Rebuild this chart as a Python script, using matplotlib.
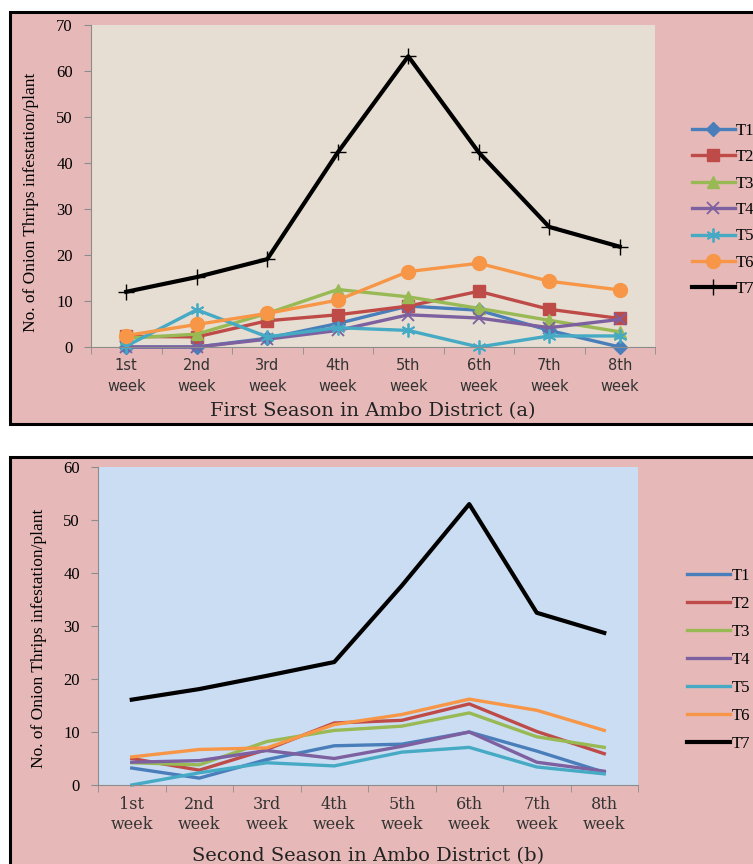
import matplotlib
matplotlib.use("Agg")
import matplotlib.pyplot as plt
from matplotlib.patches import Rectangle
import numpy as np

plt.rcParams['font.family'] = ['Liberation Serif', 'DejaVu Serif']

weeks = ["1st\nweek", "2nd\nweek", "3rd\nweek", "4th\nweek", "5th\nweek", "6th\nweek", "7th\nweek", "8th\nweek"]
series_names = ["T1", "T2", "T3", "T4", "T5", "T6", "T7"]

# First season (a)
a_T1 = [0.0, 0.0, 1.9, 5.1, 8.9, 8.0, 3.6, 0.0]
a_T2 = [2.3, 2.2, 5.7, 7.0, 8.9, 12.1, 8.2, 6.2]
a_T3 = [1.9, 2.8, 7.3, 12.5, 10.9, 8.4, 5.8, 3.3]
a_T4 = [0.0, 0.0, 1.7, 3.6, 7.0, 6.3, 4.2, 6.0]
a_T5 = [0.2, 8.1, 2.2, 4.2, 3.6, 0.0, 2.4, 2.4]
a_T6 = [2.5, 4.9, 7.3, 10.2, 16.4, 18.2, 14.3, 12.4]
a_T7 = [12.0, 15.2, 19.1, 42.3, 63.2, 42.3, 26.1, 21.8]

# Second season (b)
b_T1 = [3.2, 1.3, 4.8, 7.4, 7.7, 10.0, 6.4, 2.4]
b_T2 = [5.0, 2.8, 6.7, 11.7, 12.2, 15.3, 10.1, 5.9]
b_T3 = [4.2, 3.8, 8.2, 10.3, 11.1, 13.6, 9.1, 7.1]
b_T4 = [4.3, 4.6, 6.5, 5.0, 7.3, 10.0, 4.3, 2.6]
b_T5 = [0.0, 2.3, 4.2, 3.6, 6.2, 7.1, 3.4, 2.1]
b_T6 = [5.3, 6.7, 7.0, 11.4, 13.3, 16.2, 14.1, 10.3]
b_T7 = [16.1, 18.1, 20.6, 23.2, 37.6, 53.0, 32.5, 28.7]

colors = ["#4A7EBB", "#BE4B48", "#98B954", "#7D60A0", "#46AAC5", "#F79646", "#000000"]
markers = ["D", "s", "^", "x", (6, 2, 0), "o", "+"]
msizes = [7, 9, 9, 9, 10, 10, 12]

W, H = 753, 864
fig = plt.figure(figsize=(W / 100, H / 100), dpi=100)
fig.patch.set_facecolor("white")

pink = "#E6B9B8"
def box(x0, y0, x1, y1):
    r = Rectangle((x0 / W, 1 - y1 / H), (x1 - x0) / W, (y1 - y0) / H,
                  transform=fig.transFigure, facecolor=pink,
                  edgecolor="black", linewidth=2.2, zorder=-10)
    fig.add_artist(r)
box(10, 12, 760, 424)
box(10, 457, 760, 875)

def setup(ax, ymax, bg, tickfam, ticksize, lsp, ylab_xy):
    ax.set_facecolor(bg)
    ax.set_xlim(-0.5, 7.5)
    ax.set_ylim(0, ymax)
    ax.set_yticks(np.arange(0, ymax + 1, 10))
    ax.set_xticks(range(8))
    ax.set_xticklabels(weeks, fontsize=ticksize, linespacing=lsp, family=tickfam,
                       color="#333333")
    ax.set_xticks(np.arange(-0.5, 8, 1), minor=True)
    ax.tick_params(axis="x", which="major", length=0, pad=8)
    ax.tick_params(axis="x", which="minor", length=5, color="#8C8C8C")
    ax.tick_params(axis="y", length=5, color="#8C8C8C", labelsize=12, pad=8)
    for s in ["top", "right"]:
        ax.spines[s].set_visible(False)
    for s in ["left", "bottom"]:
        ax.spines[s].set_color("#8C8C8C")
    ax.set_ylabel("No. of Onion Thrips infestation/plant", fontsize=12.5)
    ax.yaxis.set_label_coords(*ylab_xy)

x = np.arange(8)

# Top chart
ax1 = fig.add_axes([91 / W, 1 - 347 / H, (655 - 91) / W, (347 - 25) / H])
setup(ax1, 70, "#E6DED2", ["DejaVu Sans"], 10.5, 1.45, (-0.092, 0.45))
a_data = [a_T1, a_T2, a_T3, a_T4, a_T5, a_T6, a_T7]
for name, vals, c, m, ms in zip(series_names, a_data, colors, markers, msizes):
    mew = 1.0 if m == "+" else (1.3 if (m == "x" or isinstance(m, tuple)) else 1)
    ax1.plot(x, vals, color=c, lw=2.4 if name != "T7" else 3.0, marker=m, markersize=ms,
             markeredgecolor=c, markeredgewidth=mew, label=name, clip_on=False)
ax1.set_xlabel("First Season in Ambo District (a)", fontsize=14, labelpad=6,
               family=["DejaVu Serif"], color="#222222")
ax1.legend(loc="center left", bbox_to_anchor=(685 / W, 1 - 210 / H),
           bbox_transform=fig.transFigure, frameon=False, fontsize=12,
           handlelength=2.6, handletextpad=0.05, labelspacing=0.62, borderaxespad=0)

# Bottom chart
ax2 = fig.add_axes([98 / W, 1 - 785 / H, (638 - 98) / W, (785 - 467) / H])
setup(ax2, 60, "#CBDDF2", ["DejaVu Serif"], 11.5, 1.2, (-0.094, 0.46))
b_data = [b_T1, b_T2, b_T3, b_T4, b_T5, b_T6, b_T7]
for name, vals, c in zip(series_names, b_data, colors):
    ax2.plot(x, vals, color=c, lw=2.4 if name != "T7" else 3.0, label=name, clip_on=False)
ax2.set_xlabel("Second Season in Ambo District (b)", fontsize=14, labelpad=10,
               family=["DejaVu Serif"], color="#222222")
ax2.legend(loc="center left", bbox_to_anchor=(680 / W, 1 - 660 / H),
           bbox_transform=fig.transFigure, frameon=False, fontsize=12,
           handlelength=2.6, handletextpad=0.1, labelspacing=0.72, borderaxespad=0)

fig.savefig("out.png", dpi=100)
